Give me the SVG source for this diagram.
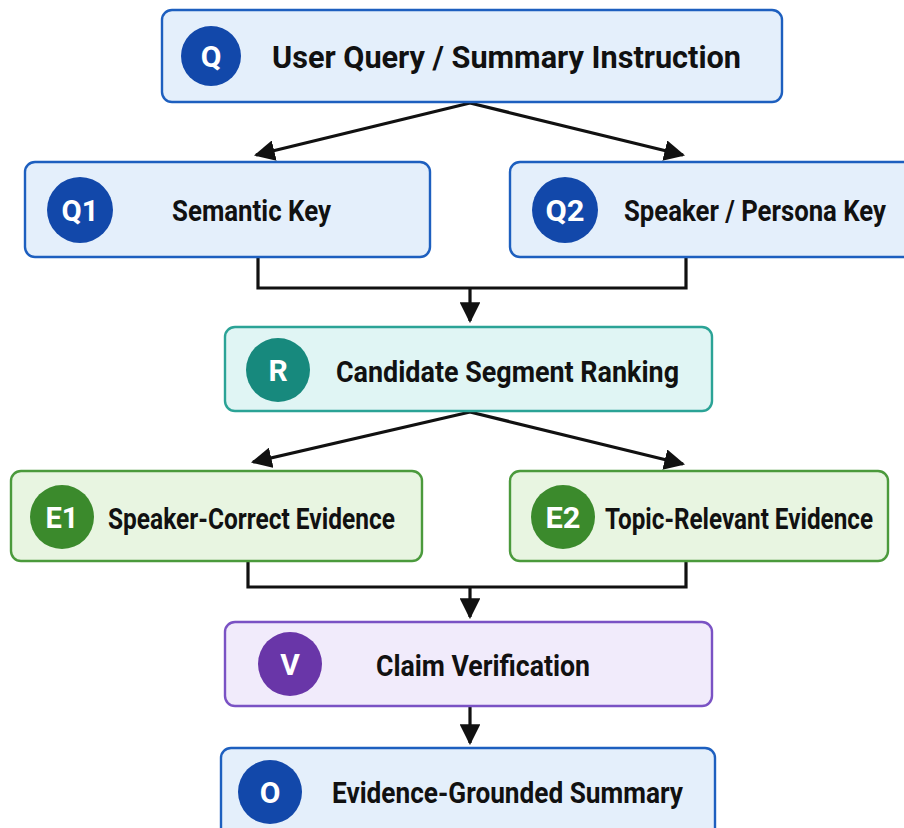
<svg xmlns="http://www.w3.org/2000/svg" width="904" height="828" viewBox="0 0 904 828">
  <style>
    .box { stroke-width: 2.4; }
    .blue { fill: #e4effb; stroke: #1d5fbf; }
    .teal { fill: #e0f5f4; stroke: #2ba396; }
    .green { fill: #e8f5e1; stroke: #4b9a3c; }
    .purple { fill: #f1ebfb; stroke: #7a52c4; }
    .badge-blue { fill: #1248aa; }
    .badge-teal { fill: #17897d; }
    .badge-green { fill: #3b8a2c; }
    .badge-purple { fill: #6936a8; }
    .badge { font-family: Roboto, "Liberation Sans", sans-serif; font-weight: 700; font-size: 30px; fill: #ffffff; text-anchor: middle; }
    .label { font-family: Roboto, "Liberation Sans", sans-serif; font-weight: 700; fill: #111111; }
    .wire { fill: none; stroke: #111111; stroke-width: 3.2; }
  </style>
  <defs>
    <marker id="arrowL" viewBox="0 0 10 10" refX="9" refY="5" markerWidth="6.5" markerHeight="6.5" orient="auto">
      <path d="M0,0 L10,5 L0,10 z" fill="#111111"/>
    </marker>
  </defs>
  <rect width="904" height="828" fill="#ffffff"/>

  <g id="connectors">
    <!-- query fans out to both keys -->
    <path class="wire" d="M470,103 L256,155" marker-end="url(#arrowL)"/>
    <path class="wire" d="M470,103 L683,155" marker-end="url(#arrowL)"/>
    <!-- keys merge into ranking -->
    <path class="wire" d="M258,258 V288 H686 V258"/>
    <path class="wire" d="M470,288 V321" marker-end="url(#arrowL)"/>
    <!-- ranking fans out to evidence sets -->
    <path class="wire" d="M470,412 L253,462" marker-end="url(#arrowL)"/>
    <path class="wire" d="M470,412 L683,464" marker-end="url(#arrowL)"/>
    <!-- evidence merges into verification -->
    <path class="wire" d="M248,562 V587 H686 V562"/>
    <path class="wire" d="M470,587 V617" marker-end="url(#arrowL)"/>
    <!-- verification to summary -->
    <path class="wire" d="M470,707 V743" marker-end="url(#arrowL)"/>
  </g>

  <g id="node-query">
    <rect class="box blue" x="162" y="10" width="620" height="92" rx="10"/>
    <circle class="badge-blue" cx="211" cy="56" r="30"/>
    <text class="badge" x="211" y="67">Q</text>
    <text class="label" x="272" y="68" font-size="31" textLength="469" lengthAdjust="spacingAndGlyphs">User Query / Summary Instruction</text>
  </g>

  <g id="node-semantic-key">
    <rect class="box blue" x="25" y="162" width="405" height="95" rx="10"/>
    <circle class="badge-blue" cx="80" cy="210" r="33"/>
    <text class="badge" x="80" y="221" textLength="37" lengthAdjust="spacingAndGlyphs">Q1</text>
    <text class="label" x="172" y="221" font-size="29" textLength="159" lengthAdjust="spacingAndGlyphs">Semantic Key</text>
  </g>

  <g id="node-speaker-key">
    <rect class="box blue" x="510" y="162" width="410" height="95" rx="10"/>
    <circle class="badge-blue" cx="565" cy="210" r="33"/>
    <text class="badge" x="565" y="221" textLength="39" lengthAdjust="spacingAndGlyphs">Q2</text>
    <!-- label is set narrow and stretched upright to keep it inside the frame -->
    <text class="label" transform="translate(624,221) scale(1,1.14)" font-size="25.5" textLength="262" lengthAdjust="spacingAndGlyphs">Speaker / Persona Key</text>
  </g>

  <g id="node-ranking">
    <rect class="box teal" x="225" y="327" width="487" height="84" rx="10"/>
    <circle class="badge-teal" cx="278" cy="370" r="32"/>
    <text class="badge" x="278" y="381">R</text>
    <text class="label" x="336" y="382" font-size="29" textLength="343" lengthAdjust="spacingAndGlyphs">Candidate Segment Ranking</text>
  </g>

  <g id="node-speaker-evidence">
    <rect class="box green" x="11" y="471" width="411" height="90" rx="10"/>
    <circle class="badge-green" cx="62" cy="517" r="32"/>
    <text class="badge" x="62" y="528" textLength="33" lengthAdjust="spacingAndGlyphs">E1</text>
    <text class="label" x="108" y="529" font-size="29" textLength="287" lengthAdjust="spacingAndGlyphs">Speaker-Correct Evidence</text>
  </g>

  <g id="node-topic-evidence">
    <rect class="box green" x="510" y="471" width="378" height="90" rx="10"/>
    <circle class="badge-green" cx="563" cy="517" r="32"/>
    <text class="badge" x="563" y="528" textLength="35" lengthAdjust="spacingAndGlyphs">E2</text>
    <text class="label" transform="translate(605,529) scale(1,1.14)" font-size="25.5" textLength="268" lengthAdjust="spacingAndGlyphs">Topic-Relevant Evidence</text>
  </g>

  <g id="node-verification">
    <rect class="box purple" x="225" y="622" width="487" height="84" rx="10"/>
    <circle class="badge-purple" cx="290" cy="664" r="32"/>
    <text class="badge" x="290" y="675">V</text>
    <text class="label" x="376" y="676" font-size="29" textLength="214" lengthAdjust="spacingAndGlyphs">Claim Verification</text>
  </g>

  <g id="node-summary">
    <rect class="box blue" x="221" y="748" width="494" height="92" rx="10"/>
    <circle class="badge-blue" cx="270" cy="792" r="32"/>
    <text class="badge" x="270" y="803">O</text>
    <text class="label" x="332" y="803" font-size="29" textLength="351" lengthAdjust="spacingAndGlyphs">Evidence-Grounded Summary</text>
  </g>
</svg>
